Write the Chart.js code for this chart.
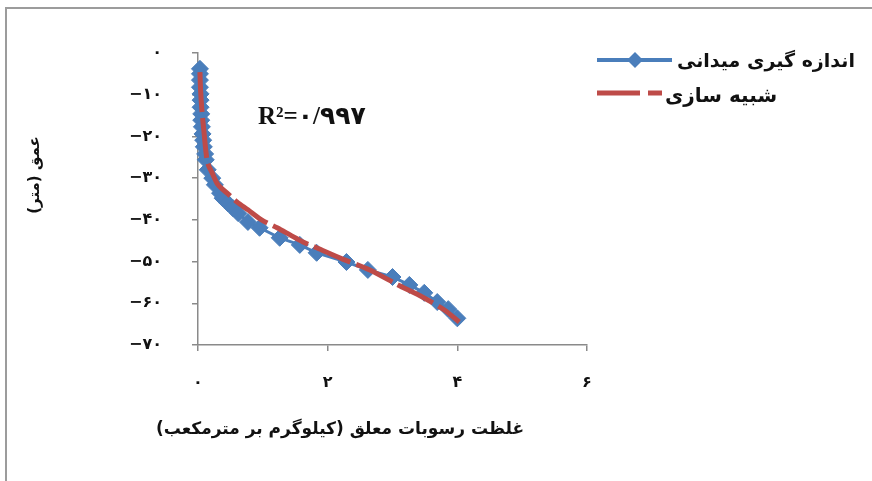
<!DOCTYPE html>
<html>
<head>
<meta charset="utf-8">
<script src="https://cdn.jsdelivr.net/npm/chart.js@4.4.1/dist/chart.umd.min.js"></script>
<style>
  html, body { margin: 0; padding: 0; background: #ffffff; }
  #wrap { width: 872px; height: 481px; position: relative; }
</style>
</head>
<body>
<div id="wrap"><canvas id="c" width="872" height="481"></canvas></div>
<script>
// Field measurements: suspended sediment concentration (kg/m3) against depth (m)
const measuredConc = [0.03, 0.03, 0.03, 0.03, 0.04, 0.04, 0.04, 0.05, 0.05, 0.06, 0.07, 0.08,
  0.09, 0.11, 0.12, 0.15, 0.22, 0.26, 0.34, 0.38, 0.46, 0.54, 0.62, 0.77, 0.95, 1.26, 1.57,
  1.83, 2.29, 2.62, 3.00, 3.26, 3.49, 3.69, 3.86, 4.00];
const measuredDepth = [-3.8, -5.0, -6.5, -8.2, -9.8, -11.3, -13.0, -14.6, -16.1, -17.7, -19.4, -20.9,
  -22.5, -24.2, -25.6, -28.0, -30.0, -31.6, -33.6, -34.8, -36.0, -37.2, -38.4, -40.5, -41.9, -44.3, -46.0,
  -47.9, -50.1, -52.0, -53.7, -55.6, -57.5, -59.7, -61.4, -63.6];

// Simulated profile
const simulatedConc = [0.03, 0.04, 0.06, 0.09, 0.12, 0.15, 0.22, 0.31, 0.45, 0.60, 0.77, 0.98,
  1.22, 1.42, 1.62, 1.83, 2.23, 2.65, 3.11, 3.46, 3.80, 4.03];
const simulatedDepth = [-4.6, -8.9, -13.7, -18.5, -23.3, -26.4, -28.8, -31.6, -33.6, -35.7, -37.6, -40.0,
  -41.9, -43.6, -45.3, -46.7, -49.4, -52.0, -55.8, -58.5, -61.6, -64.5];

const xTickLabels = ['۰', '۲', '۴', '۶'];
const yTickLabels = ['−۷۰', '−۶۰', '−۵۰', '−۴۰', '−۳۰', '−۲۰', '−۱۰', '۰'];
const seriesNames = ['اندازه گیری میدانی', 'شبیه سازی'];
const fitLabel = 'R²=۰/۹۹۷';
const xTitle = 'غلظت رسوبات معلق (کیلوگرم بر مترمکعب)';
const yTitle = 'عمق (متر)';

const BLUE = '#4A7EBB';
const RED = '#BE4B48';
const AXIS = '#8A8A8A';
const TEXT = '#111111';
const FA_FONT = "'DejaVu Sans'";

const toPoints = (xs, ys) => xs.map((x, i) => ({ x: x, y: ys[i] }));

function drawDiamond(ctx, x, y, r) {
  ctx.beginPath();
  ctx.moveTo(x - r, y);
  ctx.lineTo(x, y - r);
  ctx.lineTo(x + r, y);
  ctx.lineTo(x, y + r);
  ctx.closePath();
  ctx.fill();
}

// Frame, titles, fit label and legend
const decorations = {
  id: 'decorations',
  beforeDraw(chart) {
    const ctx = chart.ctx;
    ctx.save();
    ctx.fillStyle = '#ffffff';
    ctx.fillRect(0, 0, chart.width, chart.height);
    ctx.strokeStyle = '#9C9C9C';
    ctx.lineWidth = 2;
    ctx.strokeRect(6, 8, chart.width + 20, chart.height + 20);
    ctx.restore();
  },
  afterDraw(chart) {
    const ctx = chart.ctx;
    ctx.save();
    ctx.fillStyle = TEXT;

    // x axis title
    ctx.direction = 'rtl';
    ctx.textAlign = 'center';
    ctx.textBaseline = 'middle';
    ctx.font = 'bold 17px ' + FA_FONT;
    ctx.fillText(xTitle, 340, 430);

    // y axis title
    ctx.save();
    ctx.translate(35, 175);
    ctx.rotate(-Math.PI / 2);
    ctx.font = 'bold 15px ' + FA_FONT;
    ctx.fillText(yTitle, 0, 0);
    ctx.restore();

    // coefficient of determination
    ctx.direction = 'ltr';
    ctx.textAlign = 'left';
    ctx.font = "bold 25px 'Liberation Serif', 'DejaVu Sans'";
    ctx.fillText(fitLabel, 258, 118);

    // legend
    ctx.strokeStyle = BLUE;
    ctx.lineWidth = 4;
    ctx.beginPath();
    ctx.moveTo(597, 60);
    ctx.lineTo(672, 60);
    ctx.stroke();
    ctx.fillStyle = BLUE;
    drawDiamond(ctx, 635, 60, 8);

    ctx.strokeStyle = RED;
    ctx.lineWidth = 5;
    ctx.setLineDash([43, 8]);
    ctx.beginPath();
    ctx.moveTo(597, 93);
    ctx.lineTo(662, 93);
    ctx.stroke();
    ctx.setLineDash([]);

    ctx.fillStyle = TEXT;
    ctx.direction = 'rtl';
    ctx.textAlign = 'left';
    ctx.font = 'bold 19px ' + FA_FONT;
    ctx.fillText(seriesNames[0], 677, 62);
    ctx.font = 'bold 20px ' + FA_FONT;
    ctx.fillText(seriesNames[1], 665, 97);
    ctx.restore();
  }
};

new Chart(document.getElementById('c'), {
  type: 'scatter',
  data: {
    datasets: [
      {
        label: seriesNames[1],
        data: toPoints(simulatedConc, simulatedDepth),
        showLine: true,
        clip: false,
        borderColor: RED,
        borderWidth: 5,
        borderDash: [40, 6],
        pointRadius: 0,
        pointHoverRadius: 0,
        tension: 0.3,
        order: 0
      },
      {
        label: seriesNames[0],
        data: toPoints(measuredConc, measuredDepth),
        showLine: true,
        clip: false,
        borderColor: BLUE,
        borderWidth: 3,
        pointStyle: 'rectRot',
        pointRadius: 8.5,
        pointBackgroundColor: BLUE,
        pointBorderColor: BLUE,
        pointBorderWidth: 1,
        tension: 0,
        order: 1
      }
    ]
  },
  options: {
    responsive: false,
    animation: false,
    devicePixelRatio: 1,
    layout: { padding: { left: 0, top: 53, right: 285, bottom: 0 } },
    plugins: {
      legend: { display: false },
      tooltip: { enabled: false }
    },
    scales: {
      x: {
        type: 'linear',
        min: 0,
        max: 6,
        afterFit(scale) { scale.height = 136; },
        ticks: {
          stepSize: 2,
          padding: 22,
          color: TEXT,
          font: { family: 'DejaVu Sans', size: 16, weight: 'bold' },
          maxRotation: 0,
          callback: (v, i) => xTickLabels[i]
        },
        grid: { display: true, drawOnChartArea: false, drawTicks: true, tickLength: 6, color: AXIS, lineWidth: 1.5 },
        border: { display: true, color: AXIS, width: 1.5 }
      },
      y: {
        type: 'linear',
        min: -70,
        max: 0,
        afterFit(scale) { scale.width = 198; },
        ticks: {
          stepSize: 10,
          padding: 30,
          color: TEXT,
          font: { family: 'DejaVu Sans', size: 16, weight: 'bold' },
          callback: (v, i) => yTickLabels[i]
        },
        grid: { display: true, drawOnChartArea: false, drawTicks: true, tickLength: 6, color: AXIS, lineWidth: 1.5 },
        border: { display: true, color: AXIS, width: 1.5 }
      }
    }
  },
  plugins: [decorations]
});
</script>
</body>
</html>
